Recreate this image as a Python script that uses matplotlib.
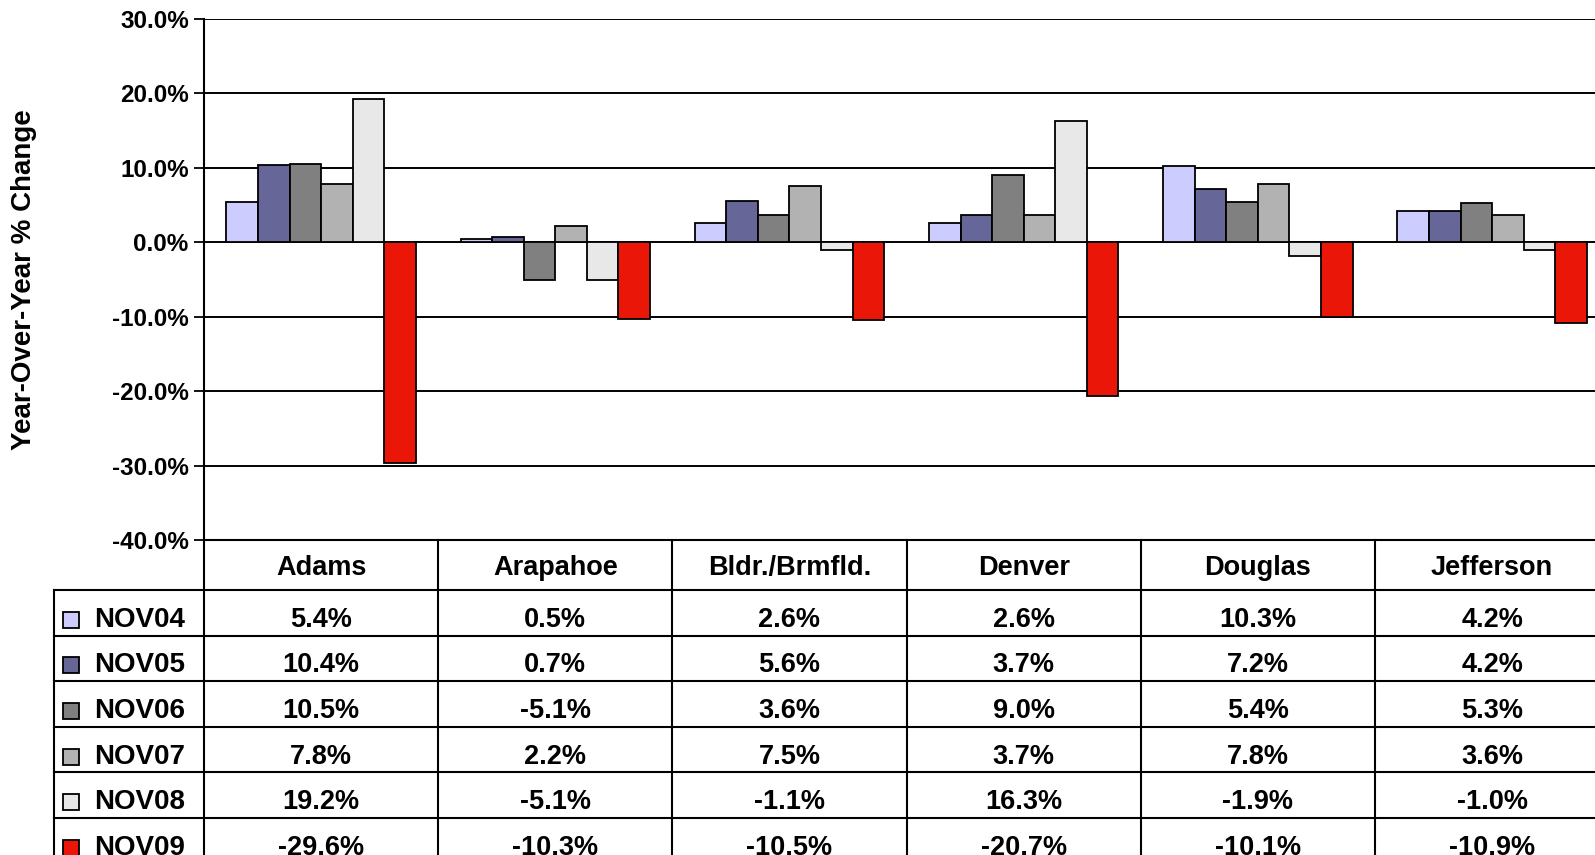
import matplotlib
matplotlib.use("Agg")
import matplotlib.pyplot as plt
import numpy as np

plt.rcParams['font.family'] = ['Liberation Sans', 'DejaVu Sans']
plt.rcParams['font.weight'] = 'bold'

categories = ["Adams", "Arapahoe", "Bldr./Brmfld.", "Denver", "Douglas", "Jefferson"]
series_names = ["NOV04", "NOV05", "NOV06", "NOV07", "NOV08", "NOV09"]
nov04 = [5.4, 0.5, 2.6, 2.6, 10.3, 4.2]
nov05 = [10.4, 0.7, 5.6, 3.7, 7.2, 4.2]
nov06 = [10.5, -5.1, 3.6, 9.0, 5.4, 5.3]
nov07 = [7.8, 2.2, 7.5, 3.7, 7.8, 3.6]
nov08 = [19.2, -5.1, -1.1, 16.3, -1.9, -1.0]
nov09 = [-29.6, -10.3, -10.5, -20.7, -10.1, -10.9]
series = [nov04, nov05, nov06, nov07, nov08, nov09]
colors = ["#CCCCFF", "#666699", "#808080", "#B2B2B2", "#E8E8E8", "#EA1608"]
yticks = [-40, -30, -20, -10, 0, 10, 20, 30]

W, H = 1595, 855
fig = plt.figure(figsize=(W / 100, H / 100), dpi=100)

# layout in pixels
ax_left = 204
cat_w = 234.2
ax_top = 19
ax_bot = 540
n = len(categories)
ax_right = ax_left + n * cat_w
ax = fig.add_axes([ax_left / W, (H - ax_bot) / H, (ax_right - ax_left) / W, (ax_bot - ax_top) / H])

x = np.arange(n)
bw = 0.1347
for i, (vals, c) in enumerate(zip(series, colors)):
    ax.bar(x + (i - 2.5) * bw, vals, width=bw, color=c, edgecolor="black", linewidth=1.3, zorder=3)

ax.set_xlim(-0.5, n - 0.5)
ax.set_ylim(-40, 30)
ax.set_yticks(yticks)
ax.set_yticklabels([f"{t:.1f}%" for t in yticks], fontsize=17.5, fontweight='bold')
ax.tick_params(axis='y', length=7, width=1.3, pad=4)
ax.set_xticks([])
ax.grid(axis='y', color='black', linewidth=1.4, zorder=0)
for s in ['top', 'right', 'bottom']:
    ax.spines[s].set_visible(False)
ax.spines['left'].set_linewidth(1.5)

fig.text(24 / W, 1 - 280 / H, "Year-Over-Year % Change", rotation=90, ha='center', va='center',
         fontsize=20, fontweight='bold')

# data table
leg_left = 54
header_h = 50
row_h = 45.6
tab_bot = ax_bot + header_h + row_h * len(series)
tax = fig.add_axes([leg_left / W, (H - tab_bot) / H, (ax_right - leg_left) / W, (tab_bot - ax_bot) / H])
xl = -0.5 - (ax_left - leg_left) / cat_w
tax.set_xlim(xl, n - 0.5)
tax.set_ylim(tab_bot - ax_bot, 0)
tax.axis('off')

lw = 1.5
tax.plot([-0.5, n - 0.5], [0, 0], color='black', lw=lw, clip_on=False)
for k in range(n + 1):
    tax.plot([-0.5 + k, -0.5 + k], [0, tab_bot - ax_bot], color='black', lw=lw, clip_on=False)
tax.plot([xl, xl], [header_h, tab_bot - ax_bot], color='black', lw=lw, clip_on=False)
for r in range(len(series) + 1):
    yy = header_h + r * row_h
    tax.plot([xl, n - 0.5], [yy, yy], color='black', lw=lw, clip_on=False)

for j, cat in enumerate(categories):
    tax.text(j, header_h / 2 + 3, cat, ha='center', va='center', fontsize=19.5, fontweight='bold')

for r, (name, vals, c) in enumerate(zip(series_names, series, colors)):
    yc = header_h + r * row_h + row_h / 2 + 7
    sq = 16 / cat_w
    x0 = xl + 9 / cat_w
    tax.add_patch(plt.Rectangle((x0, yc - 8), sq, 16, facecolor=c, edgecolor='black', lw=1.3, clip_on=False))
    tax.text(xl + 40 / cat_w, yc, name, ha='left', va='center', fontsize=20, fontweight='bold')
    for j, v in enumerate(vals):
        tax.text(j, yc, f"{v:.1f}%", ha='center', va='center', fontsize=19.5, fontweight='bold')

fig.savefig("out.png", dpi=100)
